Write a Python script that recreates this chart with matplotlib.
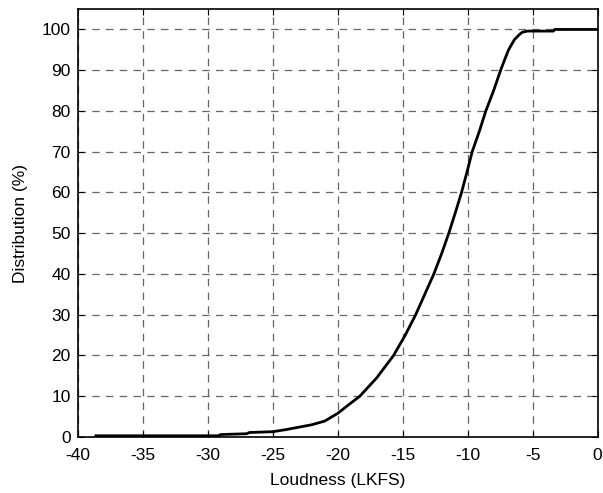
import numpy as np
import matplotlib.pyplot as plt

plt.rcParams['font.family'] = ['Liberation Sans', 'DejaVu Sans']
plt.rcParams['axes.unicode_minus'] = False

# CDF of loudness values
loudness = [-38.6, -33.0, -30.0, -29.2, -29.0, -27.0, -26.8, -25.0, -24.0, -23.0,
            -22.0, -21.0, -20.0, -19.2, -18.3, -17.0, -15.7, -14.8, -14.0, -13.3,
            -12.6, -12.0, -11.45, -10.95, -10.47, -10.05, -9.65, -9.1, -8.6, -8.0,
            -7.46, -7.1, -6.85, -6.4, -6.0, -5.8, -5.4, -4.5, -3.4, -3.3, 0.0]
distribution = [0.3, 0.3, 0.3, 0.3, 0.6, 0.8, 1.1, 1.3, 1.8, 2.4,
                3.0, 3.9, 5.8, 7.8, 10.0, 14.5, 20.0, 25.0, 30.0, 35.0,
                40.0, 45.0, 50.0, 55.0, 60.0, 65.0, 70.0, 75.0, 80.0, 85.0,
                90.0, 93.0, 95.0, 97.5, 98.8, 99.3, 99.6, 99.6, 99.6, 100.0, 100.0]

xticks = list(range(-40, 1, 5))
yticks = list(range(0, 101, 10))

fig = plt.figure(figsize=(6.03, 4.93), dpi=100)
ax = fig.add_axes([0.129, 0.1136, 0.862, 0.868])
ax.plot(loudness, distribution, color='black', linewidth=2.0)

ax.set_xlim(-40, 0)
ax.set_ylim(0, 105)
ax.set_xticks(xticks)
ax.set_yticks(yticks)
ax.grid(True, linestyle=(0, (6, 5)), color='#666666', linewidth=0.9)
ax.tick_params(direction='in', top=True, right=True, length=4, labelsize=12.5, width=0.8)
ax.tick_params(axis='x', pad=8)
ax.tick_params(axis='y', pad=5)
for s in ax.spines.values():
    s.set_linewidth(1.2)
ax.set_xlabel('Loudness (LKFS)', fontsize=12.5, labelpad=7)
ax.set_ylabel('Distribution (%)', fontsize=12.5, labelpad=10)

fig.savefig('out.png', dpi=100)
